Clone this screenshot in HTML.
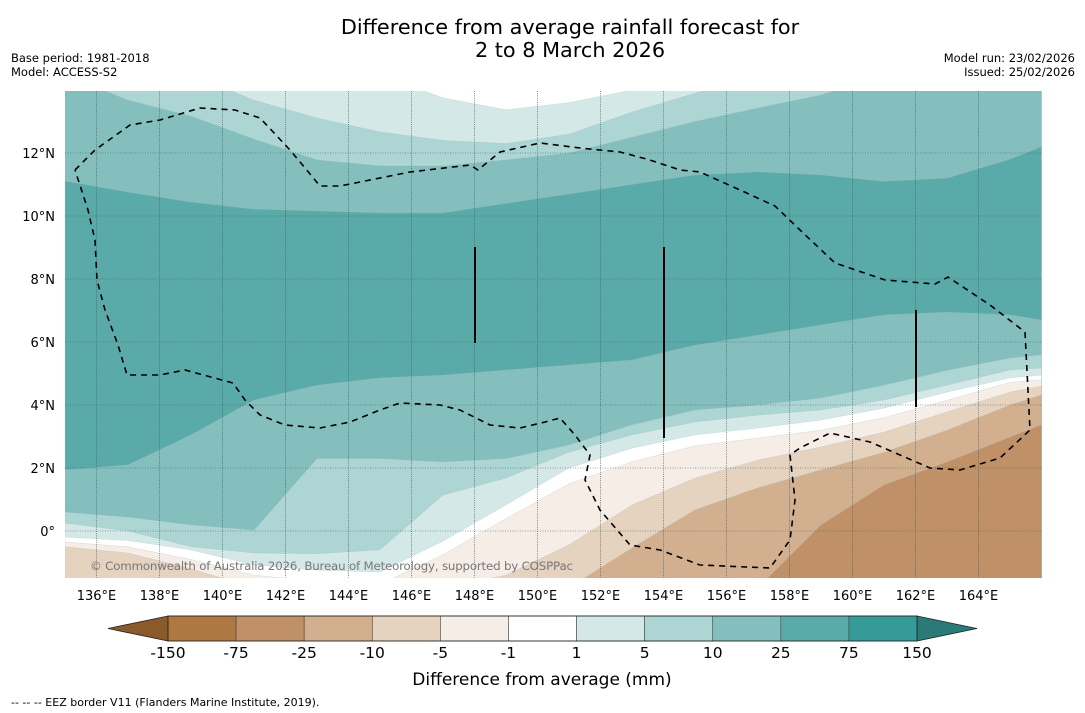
<!DOCTYPE html>
<html><head><meta charset="utf-8">
<style>
body{margin:0;background:#fff;width:1085px;height:713px;overflow:hidden;font-family:"DejaVu Sans","Liberation Sans",sans-serif;}
svg{position:absolute;left:0;top:0}
</style></head>
<body>
<svg id="chart" width="1085" height="713" xmlns="http://www.w3.org/2000/svg">
  <text x="570" y="34" text-anchor="middle" font-size="20.8" fill="#000">Difference from average rainfall forecast for</text>
  <text x="570" y="57" text-anchor="middle" font-size="20.8" fill="#000">2 to 8 March 2026</text>
  <text x="11" y="62" font-size="11.5">Base period: 1981-2018</text>
  <text x="11" y="76" font-size="11.5">Model: ACCESS-S2</text>
  <text x="1075" y="62" font-size="11.5" text-anchor="end">Model run: 23/02/2026</text>
  <text x="1075" y="76" font-size="11.5" text-anchor="end">Issued: 25/02/2026</text>
  <defs><clipPath id="mapclip"><rect x="65" y="91" width="977" height="487"/></clipPath></defs>
  <g id="map" clip-path="url(#mapclip)"></g>
  <g id="overlay"></g>
  <g id="axes"></g>
  <g id="cbar"></g>
  <text x="542" y="685" text-anchor="middle" font-size="17">Difference from average (mm)</text>
  <text x="11" y="706" font-size="11">--  --  -- EEZ border V11 (Flanders Marine Institute, 2019).</text>
</svg>
<script>
const lons = [135,137,139,141,143,145,147,149,151,153,155,157,159,161,163,165,166];
// contour lines (lat at each lon), ordered top to bottom, with the band colour below each
const c1top  = [14.5,14.5,14.5,14.5,14.5,14.5,13.75,13.37,13.6,14.0,14.5,14.5,14.5,14.5,14.5,14.5,14.5];
const c5top  = [14.5,14.5,14.5,13.68,13.11,12.67,12.4,12.3,12.6,13.3,13.9,14.5,14.5,14.5,14.5,14.5,14.5];
const c10top = [14.5,13.68,13.17,12.44,11.78,11.59,11.59,11.78,12.0,12.5,13.0,13.43,13.84,14.5,14.5,14.5,14.5];
const c25top = [11.11,10.76,10.44,10.22,10.16,10.1,10.1,10.4,10.7,11.0,11.3,11.4,11.3,11.1,11.2,11.8,12.2];
const c25bot = [1.94,2.1,3.05,4.16,4.63,4.86,4.95,5.11,5.27,5.43,5.9,6.22,6.54,6.86,6.95,6.86,6.7];
const c10bot = [0.6,0.44,0.19,0.03,2.3,2.3,2.19,2.3,2.73,3.37,3.84,4.0,4.22,4.63,5.1,5.49,5.59];
const c5bot  = [0.25,0.0,-0.5,-0.7,-0.72,-0.6,1.14,1.68,2.5,3.05,3.46,3.68,3.84,4.16,4.63,5.11,5.17];
const c1bot  = [-0.19,-0.3,-0.6,-1.08,-1.24,-1.3,-0.32,0.83,2.0,2.63,3.05,3.27,3.52,3.9,4.41,4.86,4.95];
const cm1    = [-0.35,-0.5,-0.9,-1.4,-1.6,-1.7,-0.75,0.4,1.5,2.2,2.7,2.95,3.2,3.6,4.15,4.72,4.8];
const cm5    = [-0.5,-0.7,-1.2,-1.8,-1.8,-1.8,-1.8,-1.4,-0.44,0.83,1.68,2.25,2.67,3.14,3.78,4.41,4.6];
const cm10   = [-1.8,-1.8,-1.8,-1.8,-1.8,-1.8,-1.8,-1.8,-1.8,-0.54,0.67,1.37,1.94,2.5,3.2,4.0,4.32];
const cm25   = [-1.8,-1.8,-1.8,-1.8,-1.8,-1.8,-1.8,-1.8,-1.8,-1.8,-1.8,-1.8,0.19,1.46,2.19,2.98,3.37];
const contours = [c1top,c5top,c10top,c25top,c25bot,c10bot,c5bot,c1bot,cm1,cm5,cm10,cm25];
const topColor = '#ffffff';
const belowColors = ['#d5e8e8','#acd5d4','#84bfbe','#5aaaaa','#84bfbe','#acd5d4','#d5e8e8','#ffffff','#f5ede6','#e5d2bf','#d2b08f','#c09068'];
const cbLevels = ['-150','-75','-25','-10','-5','-1','1','5','10','25','75','150'];
const cbColors = ['#ad7842','#c09068','#d2b08f','#e5d2bf','#f5ede6','#ffffff','#d5e8e8','#acd5d4','#84bfbe','#5aaaaa','#359a98'];
const lonTicks = [136,138,140,142,144,146,148,150,152,154,156,158,160,162,164];
const latTicks = [0,2,4,6,8,10,12];

const NS='http://www.w3.org/2000/svg';
const X = lon => 65 + (lon-135)*31.5;
const Y = lat => 531 - lat*31.5;
function mk(tag, attrs, parent){const e=document.createElementNS(NS,tag);for(const k in attrs)e.setAttribute(k,attrs[k]);parent.appendChild(e);return e;}

const map=document.getElementById('map');
const bg=mk('rect',{x:65,y:91,width:977,height:487,fill:topColor},map);


contours.forEach((c,i)=>{
  let d='M'+X(lons[0])+','+Y(-3);
  c.forEach((lat,j)=>{d+=' L'+X(lons[j]).toFixed(1)+','+Y(Math.min(lat,14.6)).toFixed(1);});
  d+=' L'+X(lons[lons.length-1])+','+Y(-3)+' Z';
  const p=mk('path',{d:d,fill:belowColors[i],stroke:'#9fb8b8','stroke-width':0.4,'stroke-opacity':0.5},map);
  
  
});

const ov=document.getElementById('overlay');
lonTicks.forEach(l=>{
  const g=mk('line',{x1:X(l),x2:X(l),y1:91,y2:578,stroke:'#3f5f5f','stroke-width':0.9,'stroke-dasharray':'1,1.2','stroke-opacity':0.75},ov);
  
  
});
latTicks.forEach(l=>{
  const g=mk('line',{x1:65,x2:1042,y1:Y(l),y2:Y(l),stroke:'#3f5f5f','stroke-width':0.8,'stroke-dasharray':'1,1.5','stroke-opacity':0.7},ov);
  
  
});
const eez=[[75,170],[95,150],[130,125],[160,120],[200,108],[235,110],[260,118],[290,150],[320,186],[340,186],[410,172],[470,165],[478,170],[500,152],[540,143],[580,148],[620,152],[650,160],[680,170],[700,172],[740,190],[775,206],[800,230],[835,263],[885,280],[935,284],[948,277],[990,305],[1025,332],[1030,430],[1000,458],[960,470],[930,468],[900,455],[870,442],[830,433],[800,448],[790,455],[795,500],[790,540],[770,568],[700,565],[660,550],[630,545],[600,510],[585,480],[590,455],[575,435],[560,418],[545,422],[520,428],[490,425],[460,410],[440,405],[400,403],[380,410],[350,422],[320,428],[285,425],[260,415],[245,400],[233,383],[185,370],[160,375],[127,375],[118,345],[105,310],[97,280],[95,240],[88,210],[75,170]];
const eezP=mk('path',{d:'M'+eez.map(p=>p.join(',')).join(' L'),fill:'none',stroke:'#000','stroke-width':1.6,'stroke-dasharray':'6,5'},ov);


[[475,247,343],[664,247,438],[916,310,407]].forEach(v=>{
  const l=mk('line',{x1:v[0],x2:v[0],y1:v[1],y2:v[2],stroke:'#000','stroke-width':2},ov);
  
  
});
const cp=mk('text',{x:90,y:570,'font-size':11.8,fill:'#777',textLength:483},ov);
cp.textContent='© Commonwealth of Australia 2026, Bureau of Meteorology, supported by COSPPac';



const ax=document.getElementById('axes');
lonTicks.forEach(l=>{
  const t=mk('text',{x:X(l),y:600,'font-size':13,'text-anchor':'middle'},ax);
  t.textContent=l+'°E';
  
  
});
latTicks.forEach(l=>{
  const t=mk('text',{x:55,y:Y(l)+5,'font-size':13,'text-anchor':'end'},ax);
  t.textContent=l===0?'0°':l+'°N';
  
  
});

const cb=document.getElementById('cbar');
const cx0=168,cx1=917,cy=616,ch=25,bw=(cx1-cx0)/cbColors.length;
const lt=mk('path',{d:`M${cx0},${cy} L108,${cy+ch/2} L${cx0},${cy+ch} Z`,fill:'#8b5a2b',stroke:'#222','stroke-width':0.8},cb);


const rt=mk('path',{d:`M${cx1},${cy} L977,${cy+ch/2} L${cx1},${cy+ch} Z`,fill:'#2a7a77',stroke:'#222','stroke-width':0.8},cb);


cbColors.forEach((c,i)=>{
  const r=mk('rect',{x:cx0+i*bw,y:cy,width:bw,height:ch,fill:c,stroke:'#444','stroke-width':0.6},cb);
  
  
});
const fr=mk('rect',{x:cx0,y:cy,width:cx1-cx0,height:ch,fill:'none',stroke:'#222','stroke-width':0.8},cb);


cbLevels.forEach((s,i)=>{
  const t=mk('text',{x:cx0+i*bw,y:658,'font-size':15.5,'text-anchor':'middle'},cb);
  t.textContent=s;
  
  
});
</script>
</body></html>
